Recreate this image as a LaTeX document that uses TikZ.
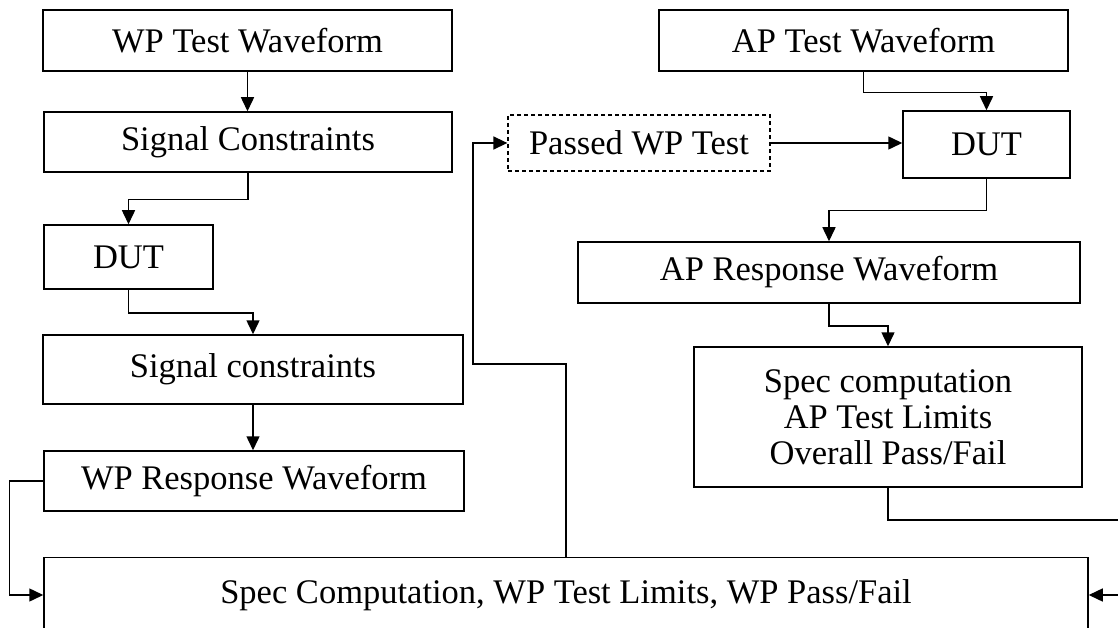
\documentclass[tikz,border=0pt]{standalone}
\usepackage{fontspec}
\setmainfont{Liberation Serif}
\usetikzlibrary{arrows.meta}
\tikzset{
  box/.style={draw, line width=1.5pt, inner sep=0pt, align=center,
    font=\fontsize{34.5}{36}\selectfont},
  dashbox/.style={box, dash pattern=on 4pt off 3pt, line width=1.3pt},
  arr/.style={line width=1.5pt, -{Triangle[length=14pt,width=13pt]}}
}
\begin{document}
\begin{tikzpicture}[x=1pt,y=-1pt]
  \useasboundingbox (0,0) rectangle (1118,628);
  \fill[white] (0,0) rectangle (1118,628);
  \clip (0,0) rectangle (1118,628);

  % left chain: WP test
  \node[box, minimum width=409pt, minimum height=61pt] (wpw) at (247.5,40.5) {WP Test Waveform};
  \node[box, minimum width=408pt, minimum height=60pt] (sc1) at (248,142) {Signal Constraints};
  \node[box, minimum width=169pt, minimum height=64pt] (dut1) at (128.5,257) {DUT};
  \node[box, minimum width=420pt, minimum height=69pt] (sc2) at (253,369.5) {Signal constraints};
  \node[box, minimum width=420pt, minimum height=60pt] (wpr) at (254,481) {WP Response Waveform};
  \node[box, minimum width=1044pt, minimum height=75pt] (wpspec) at (566,595) {Spec Computation, WP Test Limits, WP Pass/Fail};

  % right chain: AP test
  \node[box, minimum width=409pt, minimum height=61pt] (apw) at (863.5,40.5) {AP Test Waveform};
  \node[dashbox, minimum width=262pt, minimum height=56pt] (pass) at (639,143) {Passed WP Test};
  \node[box, minimum width=167pt, minimum height=67pt] (dut2) at (986.5,144.5) {DUT};
  \node[box, minimum width=502pt, minimum height=61pt] (apr) at (829,272.5) {AP Response Waveform};
  \node[box, minimum width=388pt, minimum height=140pt] (apspec) at (888,417) {Spec computation\\AP Test Limits\\Overall Pass/Fail};

  % bend points of the long return paths
  \coordinate (wpup) at (473,364);
  \coordinate (aprt) at (1130,520);

  % left connectors
  \draw[arr] (wpw.south) -- (wpw.south |- sc1.north);
  \draw[arr] (sc1.south) -- ++(0,27) -| (dut1.north);
  \draw[arr] (dut1.south) -- ++(0,23) -| (sc2.north);
  \draw[arr] (sc2.south) -- (sc2.south |- wpr.north);
  \draw[arr] (wpr.west) -- ++(-34,0) |- (wpspec.west);
  \draw[arr] (wpspec.north) |- (wpup) |- (pass.west);

  % right connectors
  \draw[arr] (pass.east) -- (pass.east -| dut2.west);
  \draw[arr] (apw.south) -- ++(0,21) -| (dut2.north);
  \draw[arr] (dut2.south) -- ++(0,32) -| (apr.north);
  \draw[arr] (apr.south) -- ++(0,22) -| (apspec.north);
  \draw[arr] (apspec.south) |- (aprt) |- (wpspec.east);
\end{tikzpicture}
\end{document}
